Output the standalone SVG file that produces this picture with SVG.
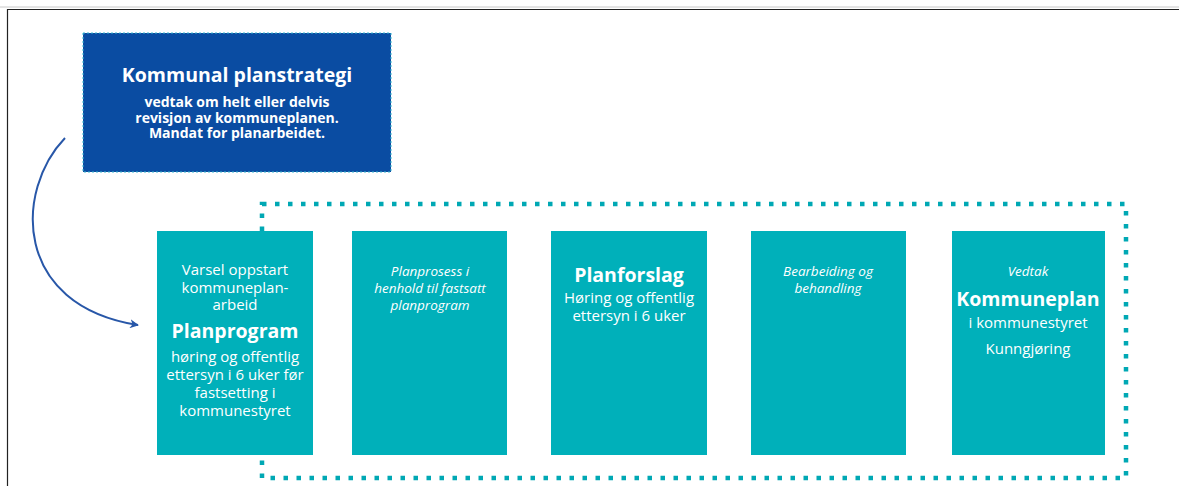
<svg xmlns="http://www.w3.org/2000/svg" width="1179" height="486" viewBox="0 0 1179 486">
<defs>
<style>
text{font-family:"Open Sans","Liberation Sans",sans-serif;fill:#fff;text-anchor:middle}
.t{font-size:15px}
.s{font-size:14px;font-weight:bold}
.h{font-size:19.5px;font-weight:bold}
.i{font-size:13.5px;font-style:italic}
.box{fill:#00b0ba}
</style>
<marker id="ah" viewBox="0 0 10 10" refX="9" refY="5" markerWidth="9" markerHeight="9" orient="auto" markerUnits="userSpaceOnUse">
<path d="M0,0 L10,5 L0,10 L3,5 Z" fill="#2857a8"/>
</marker>
</defs>
<rect width="1179" height="486" fill="#fff"/>
<line x1="0" y1="7" x2="1179" y2="7" stroke="#c8c8c8" stroke-width="1"/>
<path d="M7.5,486 V9.5 H1179" fill="none" stroke="#222" stroke-width="1.2"/>
<rect x="262" y="204" width="864" height="274" fill="none" stroke="#00a8b4" stroke-width="4.5" stroke-dasharray="4.5 8.5"/>
<g id="connectors">
<path d="M65,138 C15,190 12,305 138,325" fill="none" stroke="#2857a8" stroke-width="2" marker-end="url(#ah)"/>
</g>
<g id="strategi">
<rect x="83" y="33" width="308" height="139" fill="#0a4ca2" stroke="#3bb8d0" stroke-width="1" stroke-dasharray="2 2"/>
<text class="h" x="237" y="82">Kommunal planstrategi</text>
<text class="s"><tspan x="237" y="107">vedtak om helt eller delvis</tspan><tspan x="237" y="122.5">revisjon av kommuneplanen.</tspan><tspan x="237" y="138">Mandat for planarbeidet.</tspan></text>
</g>
<g id="planprogram">
<rect class="box" x="157" y="231" width="156" height="224"/>
<text class="t"><tspan x="235" y="275">Varsel oppstart</tspan><tspan x="235" y="292.5">kommuneplan-</tspan><tspan x="235" y="310">arbeid</tspan></text>
<text class="h" x="235" y="338">Planprogram</text>
<text class="t"><tspan x="235" y="362">høring og offentlig</tspan><tspan x="235" y="380">ettersyn i 6 uker før</tspan><tspan x="235" y="398">fastsetting i</tspan><tspan x="235" y="416">kommunestyret</tspan></text>
</g>
<g id="planprosess">
<rect class="box" x="352" y="231" width="155" height="224"/>
<text class="i"><tspan x="430" y="276">Planprosess i</tspan><tspan x="430" y="293">henhold til fastsatt</tspan><tspan x="430" y="310">planprogram</tspan></text>
</g>
<g id="planforslag">
<rect class="box" x="551" y="231" width="156" height="224"/>
<text class="h" x="629" y="282">Planforslag</text>
<text class="t"><tspan x="629" y="303">Høring og offentlig</tspan><tspan x="629" y="321">ettersyn i 6 uker</tspan></text>
</g>
<g id="bearbeiding">
<rect class="box" x="751" y="231" width="155" height="224"/>
<text class="i"><tspan x="828" y="276">Bearbeiding og</tspan><tspan x="828" y="293">behandling</tspan></text>
</g>
<g id="kommuneplan">
<rect class="box" x="952" y="231" width="153" height="224"/>
<text class="i" x="1028" y="276">Vedtak</text>
<text class="h" x="1028" y="306">Kommuneplan</text>
<text class="t" x="1028" y="328">i kommunestyret</text>
<text class="t" x="1028" y="354">Kunngjøring</text>
</g>
</svg>
